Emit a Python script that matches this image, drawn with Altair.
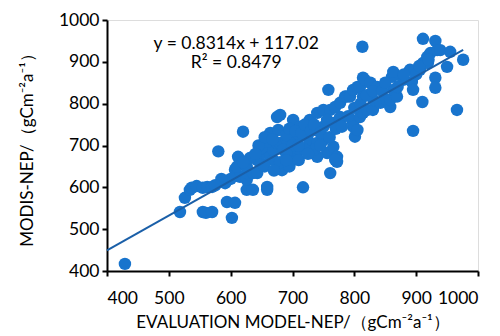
import altair as alt
import pandas as pd

# Scatter points (evaluation model NEP, MODIS NEP)
eval_nep = [429, 518, 526, 534, 537, 545, 555, 560, 570, 555, 562, 570, 580, 591, 594, 602, 607, 607, 612, 615,
            620, 626, 626, 636, 626, 636, 643, 610, 626, 648, 643, 631, 652, 651, 664, 669, 659, 664, 675, 677,
            675, 680, 659, 659, 683, 669, 680, 691, 701, 707, 701, 701, 712, 712, 724, 728, 728, 740, 740, 750,
            750, 750, 756, 761, 766, 766, 769, 772, 772, 761, 717, 758, 777, 777, 777, 785, 788, 793, 798, 798,
            798, 801, 805, 805, 809, 809, 813, 814, 814, 814, 817, 821, 826, 830, 831, 837, 842, 853, 858, 858,
            861, 863, 863, 869, 879, 890, 893, 895, 895, 906, 910, 911, 911, 918, 919, 923, 931, 931, 931, 934,
            939, 950, 955, 966, 976, 740, 769, 756, 645, 655, 668, 685, 690, 695, 700, 705, 715, 720, 730, 735,
            745, 735, 720, 710, 690, 680, 695, 710, 725, 745, 760, 770, 780, 790, 800, 810, 820, 830, 845, 850,
            870, 880, 900, 905, 920, 600, 585, 575, 640, 620, 655, 670, 690]
modis_nep = [417, 541, 575, 594, 599, 603, 541, 539, 541, 599, 601, 601, 686, 610, 565, 527, 563, 642, 673, 625,
             733, 594, 618, 594, 634, 634, 634, 649, 649, 658, 665, 670, 682, 694, 673, 689, 709, 730, 706, 737,
             768, 773, 594, 601, 641, 665, 706, 713, 713, 682, 666, 761, 745, 721, 721, 706, 761, 778, 706, 713,
             745, 785, 682, 785, 754, 697, 792, 673, 661, 634, 600, 833, 761, 768, 802, 817, 817, 817, 833, 754,
             745, 721, 737, 840, 840, 768, 936, 862, 817, 778, 857, 785, 850, 785, 809, 840, 802, 809, 792, 809,
             864, 876, 833, 817, 857, 881, 852, 833, 735, 881, 804, 897, 955, 912, 897, 921, 950, 862, 838, 928,
             928, 888, 924, 785, 905, 673, 666, 761, 700, 720, 715, 690, 725, 740, 700, 735, 730, 750, 735, 750,
             730, 690, 690, 700, 680, 660, 650, 665, 680, 700, 720, 740, 745, 770, 790, 800, 820, 830, 830, 850,
             840, 870, 870, 890, 905, 620, 620, 605, 680, 660, 650, 640, 665]

# Trendline (from the equation in the chart)
slope = 0.8314
intercept = 117.02
line_x = [400, 976]

ann_text = ["y = 0.8314x + 117.02", "R² = 0.8479"]
ann_x = [609, 609]
ann_y = [943, 897]

x_ticks = [400, 500, 600, 700, 800, 900, 1000]
y_ticks = [400, 500, 600, 700, 800, 900, 1000]

pts = pd.DataFrame({"x": eval_nep, "y": modis_nep})
line_df = pd.DataFrame({"x": line_x, "y": [slope * v + intercept for v in line_x]})
ann_df = pd.DataFrame({"x": ann_x, "y": ann_y, "t": ann_text})

FONT = "Lato"
xscale = alt.Scale(domain=[400, 1000], nice=False)
yscale = alt.Scale(domain=[400, 1000], nice=False)

xaxis = alt.Axis(values=x_ticks, format="d", grid=False, domainColor="black", domainWidth=2,
                 tickColor="black", tickWidth=2, tickSize=5, labelFont=FONT, labelFontSize=17.5,
                 labelColor="black", labelPadding=13, title="EVALUATION MODEL-NEP/（gCm⁻²a⁻¹）",
                 titleFont=FONT, titleFontSize=17, titleFontWeight="normal", titleColor="black",
                 titlePadding=8)
yaxis = alt.Axis(values=y_ticks, format="d", grid=False, domainColor="black", domainWidth=2,
                 tickColor="black", tickWidth=2, tickSize=5, labelFont=FONT, labelFontSize=17.5,
                 labelColor="black", labelPadding=3, title="MODIS-NEP/（gCm⁻²a⁻¹）", titleFont=FONT,
                 titleFontSize=17, titleFontWeight="normal", titleColor="black", titlePadding=22)

points = alt.Chart(pts).mark_circle(size=155, color="#1874CD", opacity=1).encode(
    x=alt.X("x:Q", scale=xscale, axis=xaxis),
    y=alt.Y("y:Q", scale=yscale, axis=yaxis),
)
trend = alt.Chart(line_df).mark_line(color="#1a5fa8", strokeWidth=2).encode(
    x=alt.X("x:Q", scale=xscale), y=alt.Y("y:Q", scale=yscale)
)
ann = alt.Chart(ann_df).mark_text(font=FONT, fontSize=17.5, color="black", align="center",
                                  baseline="middle").encode(
    x=alt.X("x:Q", scale=xscale), y=alt.Y("y:Q", scale=yscale), text="t:N"
)

chart = alt.layer(points, trend, ann).properties(
    width=371, height=251,
    autosize=alt.AutoSizeParams(type="none"),
    padding={"left": 99, "top": 12, "right": 14, "bottom": 64},
).configure_view(stroke=None).configure(background="white")

chart.save("out.html", embed_options={"renderer": "svg", "actions": False})
